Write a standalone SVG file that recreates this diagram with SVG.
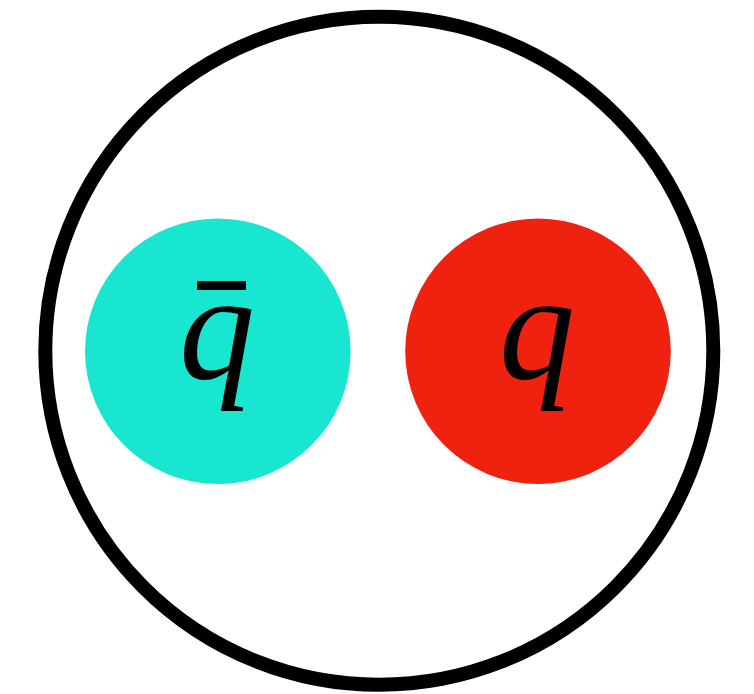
<svg xmlns="http://www.w3.org/2000/svg" width="754" height="694" viewBox="0 0 754 694">
<style>
.lbl{font-family:'Liberation Serif','Times New Roman',serif;font-style:italic;font-size:152px;fill:#000;text-anchor:middle}
.bar{fill:#000}
</style>
<rect width="754" height="694" fill="#fff"/>
<g id="meson"><circle cx="379.3" cy="350.8" r="334" fill="none" stroke="#000" stroke-width="14"/></g>
<g id="antiquark"><circle cx="217.8" cy="351.2" r="132.8" fill="#18e6d0"/><text class="lbl" x="217" y="378">q</text><rect class="bar" x="197" y="281" width="49" height="9"/></g>
<g id="quark"><circle cx="538" cy="351.2" r="132.8" fill="#ee220e"/><text class="lbl" x="537" y="378">q</text></g>
<g id="connectors"/>
</svg>
